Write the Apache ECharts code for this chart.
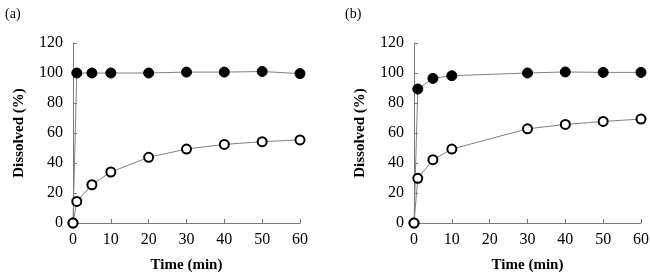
<!DOCTYPE html>
<html>
<head>
<meta charset="utf-8">
<script src="https://cdn.jsdelivr.net/npm/echarts@6/dist/echarts.min.js"></script>
<style>
  html, body { margin: 0; padding: 0; background: #fff; }
  #chart { width: 650px; height: 275px; }
</style>
</head>
<body>
<div id="chart"></div>
<script>
// sampling times (min)
var timeA = [0, 1, 5, 10, 20, 30, 40, 50, 60];
var timeB = [0, 1, 5, 10, 30, 40, 50, 60];

// panel (a)
var filledA = [0, 100, 100, 100, 100, 100.6, 100.6, 101, 99.6];
var openA = [0, 14.4, 25.5, 34, 43.8, 49.3, 52.4, 54.2, 55.4];

// panel (b)
var filledB = [0, 89.3, 96.4, 98.2, 100, 100.7, 100.4, 100.4];
var openB = [0, 29.8, 42.2, 49.3, 62.8, 65.7, 67.7, 69.3];

var panelLabels = ['(a)', '(b)'];
var xTitle = 'Time (min)';
var yTitle = 'Dissolved (%)';

function pairs(xs, ys) {
  return xs.map(function (x, i) { return [x, ys[i]]; });
}

var font = 'Liberation Serif';
var axisGrey = '#7a7a7a';

function xAxisFor(idx) {
  return {
    type: 'value', gridIndex: idx, min: 0, max: 60, interval: 10,
    name: xTitle, nameLocation: 'middle', nameGap: 35,
    nameTextStyle: { fontFamily: font, fontSize: 15, fontWeight: 'bold', color: '#000' },
    axisLine: { lineStyle: { color: axisGrey, width: 1 } },
    axisTick: { inside: true, length: 4, lineStyle: { color: axisGrey } },
    axisLabel: { fontFamily: font, fontSize: 16, color: '#000', margin: 9 },
    splitLine: { show: false }
  };
}
function yAxisFor(idx) {
  return {
    type: 'value', gridIndex: idx, min: 0, max: 120, interval: 20,
    name: yTitle, nameLocation: 'middle', nameGap: 46,
    nameTextStyle: { fontFamily: font, fontSize: 15, fontWeight: 'bold', color: '#000' },
    axisLine: { show: true, lineStyle: { color: axisGrey, width: 1 } },
    axisTick: { show: true, inside: true, length: 4, lineStyle: { color: axisGrey } },
    axisLabel: { fontFamily: font, fontSize: 16, color: '#000', margin: 10 },
    splitLine: { show: false }
  };
}

function filledSeries(idx, data) {
  return {
    type: 'line', xAxisIndex: idx, yAxisIndex: idx, data: data,
    symbol: 'circle', symbolSize: 10,
    lineStyle: { color: '#808080', width: 1 },
    itemStyle: { color: '#000', borderColor: '#000', borderWidth: 1 },
    animation: false
  };
}
function openSeries(idx, data) {
  return {
    type: 'line', xAxisIndex: idx, yAxisIndex: idx, data: data,
    symbol: 'circle', symbolSize: 9,
    lineStyle: { color: '#808080', width: 1 },
    itemStyle: { color: '#fff', borderColor: '#000', borderWidth: 2 },
    animation: false
  };
}

var chart = echarts.init(document.getElementById('chart'));
chart.setOption({
  backgroundColor: '#fff',
  title: [
    { text: panelLabels[0], left: 0, top: 2, textStyle: { fontFamily: font, fontSize: 14, fontWeight: 'normal', color: '#000' } },
    { text: panelLabels[1], left: 340, top: 2, textStyle: { fontFamily: font, fontSize: 14, fontWeight: 'normal', color: '#000' } }
  ],
  grid: [
    { left: 73, right: 350, top: 43, bottom: 52, containLabel: false, outerBoundsMode: 'none' },
    { left: 414, right: 9, top: 43, bottom: 52, containLabel: false, outerBoundsMode: 'none' }
  ],
  xAxis: [xAxisFor(0), xAxisFor(1)],
  yAxis: [yAxisFor(0), yAxisFor(1)],
  series: [
    filledSeries(0, pairs(timeA, filledA)),
    openSeries(0, pairs(timeA, openA)),
    filledSeries(1, pairs(timeB, filledB)),
    openSeries(1, pairs(timeB, openB))
  ]
});
</script>
</body>
</html>
